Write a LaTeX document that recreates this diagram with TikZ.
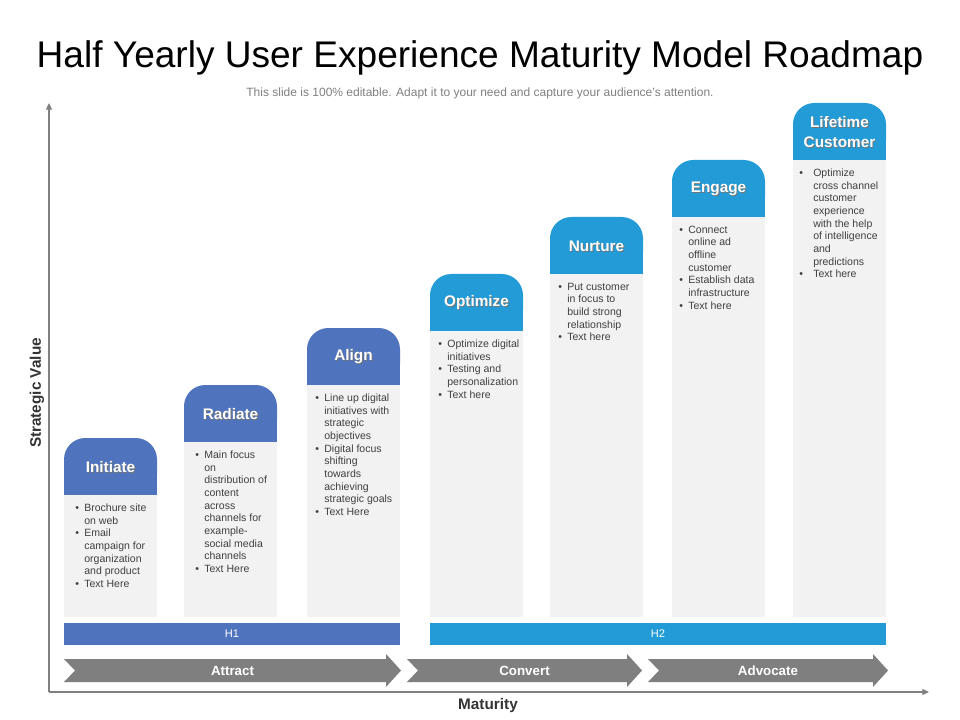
\documentclass[tikz,border=0pt]{standalone}
\usepackage{fontspec}
\setmainfont{Liberation Sans}
\usetikzlibrary{arrows.meta}
\definecolor{blueA}{HTML}{4F74BD}
\definecolor{blueB}{HTML}{229BD6}
\definecolor{bodygray}{HTML}{F2F2F2}
\definecolor{chevgray}{HTML}{7F7F7F}
\definecolor{txtgray}{HTML}{404040}
\definecolor{axisgray}{HTML}{808080}
\definecolor{subgray}{HTML}{808080}
\newcommand\bl{\makebox[6.8pt][l]{\textbullet}}
\newcommand\ct{\hspace*{6.8pt}}
\newcommand\blw{\makebox[10.5pt][l]{\textbullet}}
\newcommand\ctw{\hspace*{10.5pt}}
\tikzset{
  headlabel/.style={text=white, font=\bfseries\fontsize{11.5}{15}\selectfont, align=center, inner sep=0pt},
  headshadow/.style={text=black!55, font=\bfseries\fontsize{11.5}{15}\selectfont, align=center, inner sep=0pt},
  bodytext/.style={text=txtgray, font=\fontsize{7.9}{9.5}\selectfont, align=left, inner sep=0pt, anchor=north west},
  hlabel/.style={text=white, font=\fontsize{8.3}{9}\selectfont, inner sep=0pt},
  chevlabel/.style={text=white, font=\bfseries\fontsize{10}{12}\selectfont, inner sep=0pt},
  axisline/.style={draw=axisgray, line width=0.8pt, -{Triangle[length=5pt,width=4.5pt]}},
}
% name, left, top, color, label
\newcommand\uxhead[5]{%
  \fill[#4, rounded corners=16pt] (#2,#3) rectangle ++(93,57);
  \fill[#4] (#2,#3+28) rectangle ++(93,29);
  \fill[bodygray] (#2,#3+57) rectangle (#2+93,617);
  \node[headshadow] (#1s) at (#2+46.5+0.9,#3+29+0.9) {#5};
  \node[headlabel] (#1) at (#2+46.5,#3+29) {#5};
}
% name, x0, x1, label
\newcommand\uxchev[4]{%
  \fill[chevgray] (#2,659) -- (#3-15,659) -- (#3-15,654) -- (#3,670.5) -- (#3-15,687) -- (#3-15,682) -- (#2,682) -- (#2+11,670.5) -- cycle;
  \node[chevlabel] (#1) at ({(#2+#3)/2},670.5) {#4};
}
\begin{document}
\begin{tikzpicture}[x=0.75pt,y=-0.75pt]
\useasboundingbox (0,0) rectangle (960,720);
\fill[white] (0,0) rectangle (960,720);
% title
\node[font=\fontsize{27.8}{32}\selectfont, text=black, inner sep=0pt] (title) at (480,58) {Half Yearly User Experience Maturity Model Roadmap};
\node[font=\fontsize{9}{10}\selectfont, text=subgray, inner sep=0pt] (sub) at (480,93) {This slide is 100\% editable. Adapt it to your need and capture your audience’s attention.};
% axes
\coordinate (o) at (49,692);
\coordinate (yt) at (49,103);
\coordinate (xt) at (929,692);
\draw[axisline] (o) -- (yt);
\draw[axisline] (o) -- (xt);
\node[rotate=90, font=\bfseries\fontsize{11.5}{14}\selectfont, text=txtgray!80!black, inner sep=0pt] (yl) at (37,393) {Strategic Value};
\node[font=\bfseries\fontsize{11.5}{14}\selectfont, text=txtgray!80!black, inner sep=0pt] (xl) at (488,706) {Maturity};
% columns
\uxhead{initiate}{64}{438}{blueA}{Initiate}
\uxhead{radiate}{184}{385}{blueA}{Radiate}
\uxhead{align}{307}{328}{blueA}{Align}
\uxhead{optimize}{430}{274}{blueB}{Optimize}
\uxhead{nurture}{550}{217}{blueB}{Nurture}
\uxhead{engage}{672}{160}{blueB}{Engage}
\uxhead{lifetime}{793}{103}{blueB}{Lifetime\\Customer}
% body texts
\node[bodytext] (t1) at (75,503.5) {\bl Brochure site\\\ct on web\\\bl Email\\\ct campaign for\\\ct organization\\\ct and product\\\bl Text Here};
\node[bodytext] (t2) at (195,450.5) {\bl Main focus\\\ct on\\\ct distribution of\\\ct content\\\ct across\\\ct channels for\\\ct example-\\\ct social media\\\ct channels\\\bl Text Here};
\node[bodytext] (t3) at (315,393.5) {\bl Line up digital\\\ct initiatives with\\\ct strategic\\\ct objectives\\\bl Digital focus\\\ct shifting\\\ct towards\\\ct achieving\\\ct strategic goals\\\bl Text Here};
\node[bodytext] (t4) at (438,339.5) {\bl Optimize digital\\\ct initiatives\\\bl Testing and\\\ct personalization\\\bl Text here};
\node[bodytext] (t5) at (558,282.5) {\bl Put customer\\\ct in focus to\\\ct build strong\\\ct relationship\\\bl Text here};
\node[bodytext] (t6) at (679,225.5) {\bl Connect\\\ct online ad\\\ct offline\\\ct customer\\\bl Establish data\\\ct infrastructure\\\bl Text here};
\node[bodytext] (t7) at (799,168.5) {\blw Optimize\\\ctw cross channel\\\ctw customer\\\ctw experience\\\ctw with the help\\\ctw of intelligence\\\ctw and\\\ctw predictions\\\blw Text here};
% half-year bars
\fill[blueA] (64,623) rectangle (400,645);
\node[hlabel] (h1) at (232,634) {H1};
\fill[blueB] (430,623) rectangle (886,645);
\node[hlabel] (h2) at (658,634) {H2};
% chevrons
\uxchev{attract}{64}{401}{Attract}
\uxchev{convert}{407}{642}{Convert}
\uxchev{advocate}{648}{888}{Advocate}
\end{tikzpicture}
\end{document}
